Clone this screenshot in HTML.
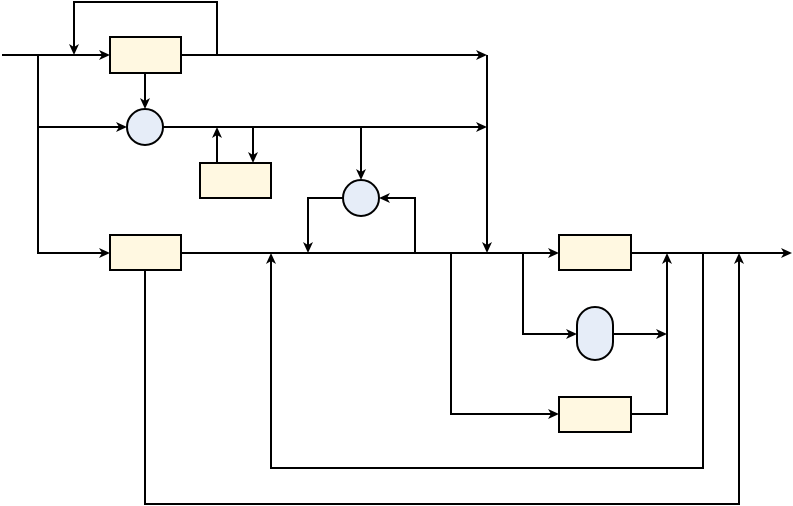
<!DOCTYPE html>
<html><head><meta charset="utf-8"><style>html,body{margin:0;padding:0;background:#fff}svg{display:block}</style></head>
<body>
<svg width="793" height="506" viewBox="0 0 793 506" xmlns="http://www.w3.org/2000/svg">
<g fill="none" stroke="#000" stroke-width="2">
<path d="M2,55 H104"/>
<path d="M217,55 V2 H74 V50"/>
<path d="M181,55 H482"/>
<path d="M38,55 V253 H104"/>
<path d="M38,127 H121"/>
<path d="M145,73 V103"/>
<path d="M163,127 H482"/>
<path d="M217,163 V132"/>
<path d="M253,127 V157"/>
<path d="M361,127 V174"/>
<path d="M343,198 H308 V247"/>
<path d="M415,253 V198 H385"/>
<path d="M487,55 V247"/>
<path d="M181,253 H553"/>
<path d="M631,253 H786"/>
<path d="M523,253 V334 H571"/>
<path d="M613,334 H661"/>
<path d="M631,414 H667 V259"/>
<path d="M451,253 V414 H553"/>
<path d="M703,253 V468 H271 V259"/>
<path d="M145,270 V504 H739 V259"/>
</g>
<g fill="#000" stroke="none">
<!-- right arrows -->
<path d="M110,55 l-11,-5 l3,5 l-3,5 z"/>
<path d="M487,55 l-11,-5 l3,5 l-3,5 z"/>
<path d="M110,253 l-11,-5 l3,5 l-3,5 z"/>
<path d="M127,127 l-11,-5 l3,5 l-3,5 z"/>
<path d="M487,127 l-11,-5 l3,5 l-3,5 z"/>
<path d="M559,253 l-11,-5 l3,5 l-3,5 z"/>
<path d="M792,253 l-11,-5 l3,5 l-3,5 z"/>
<path d="M577,334 l-11,-5 l3,5 l-3,5 z"/>
<path d="M667,334 l-11,-5 l3,5 l-3,5 z"/>
<path d="M559,414 l-11,-5 l3,5 l-3,5 z"/>
<!-- down arrows -->
<path d="M74,55 l-5,-11 l5,3 l5,-3 z"/>
<path d="M145,109 l-5,-11 l5,3 l5,-3 z"/>
<path d="M253,163 l-5,-11 l5,3 l5,-3 z"/>
<path d="M361,180 l-5,-11 l5,3 l5,-3 z"/>
<path d="M308,253 l-5,-11 l5,3 l5,-3 z"/>
<path d="M487,253 l-5,-11 l5,3 l5,-3 z"/>
<!-- up arrows -->
<path d="M217,127 l-5,11 l5,-3 l5,3 z"/>
<path d="M667,253 l-5,11 l5,-3 l5,3 z"/>
<path d="M271,253 l-5,11 l5,-3 l5,3 z"/>
<path d="M739,253 l-5,11 l5,-3 l5,3 z"/>
<!-- left arrow -->
<path d="M379,198 l11,-5 l-3,5 l3,5 z"/>
</g>
<g fill="#fff8e1" stroke="#000" stroke-width="2">
<rect x="110" y="37" width="71" height="36"/>
<rect x="200" y="163" width="71" height="35"/>
<rect x="110" y="235" width="71" height="35"/>
<rect x="559" y="235" width="72" height="35"/>
<rect x="559" y="397" width="72" height="35"/>
</g>
<g fill="#e6edf8" stroke="#000" stroke-width="2">
<circle cx="145" cy="127" r="18"/>
<circle cx="361" cy="198" r="18"/>
<rect x="577" y="307" width="36" height="53" rx="18" ry="18"/>
</g>
</svg>
</body></html>
